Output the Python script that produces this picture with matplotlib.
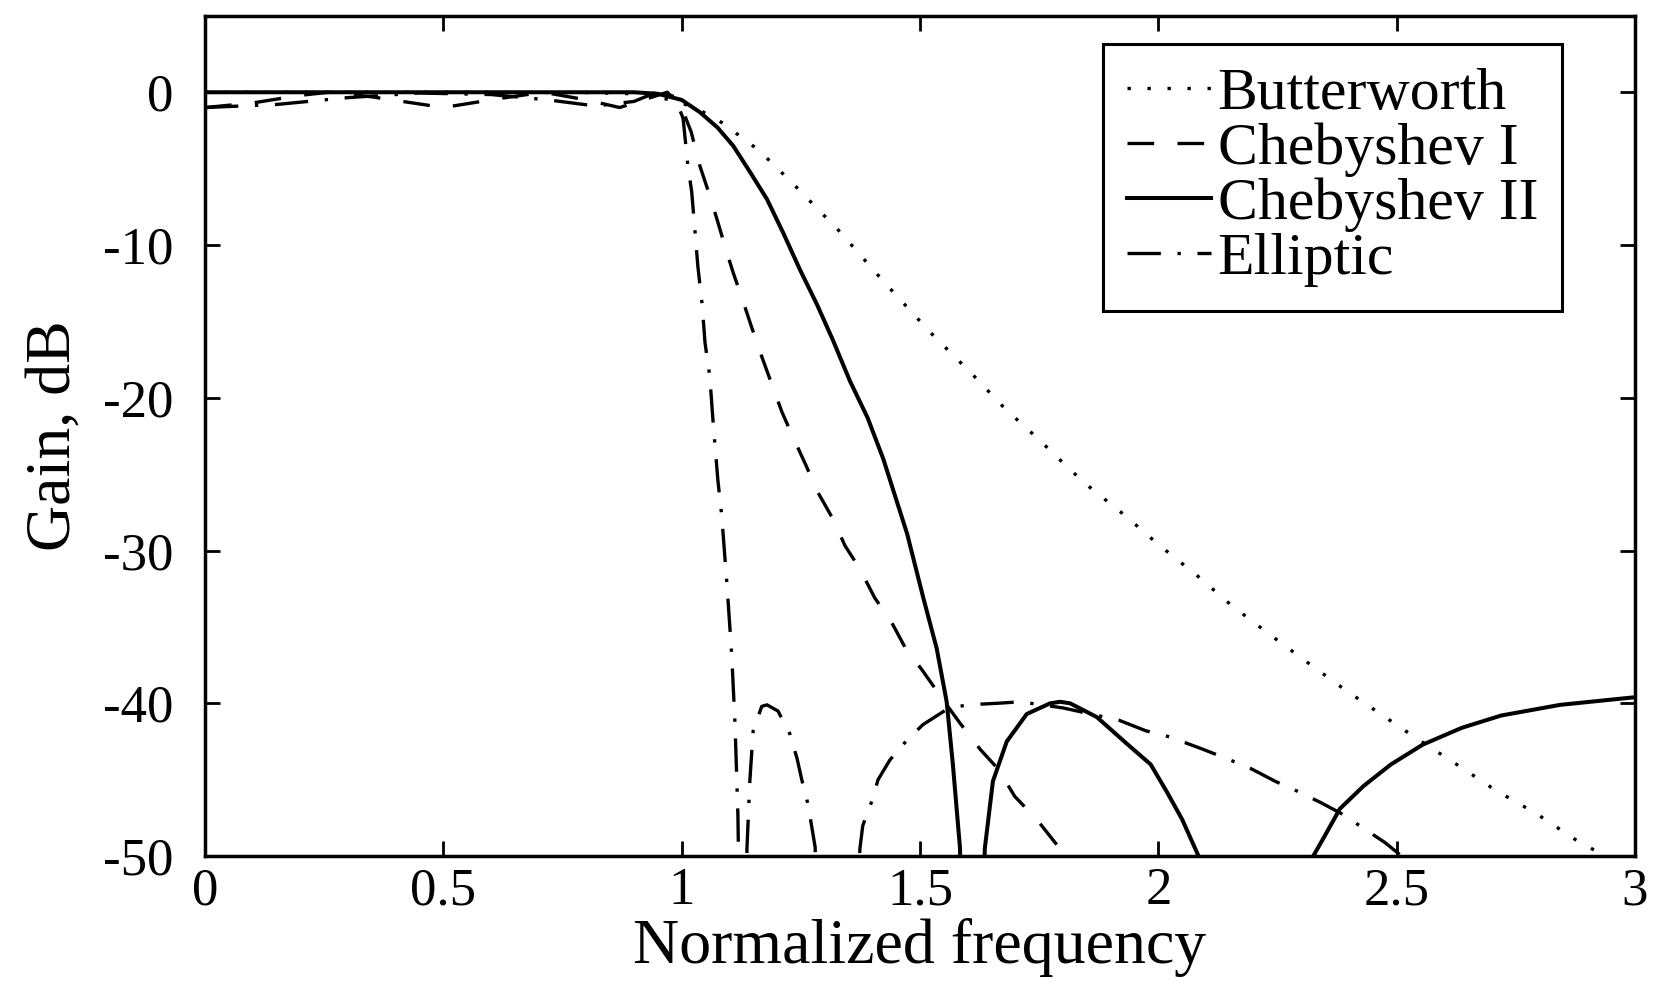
import numpy as np
import matplotlib
matplotlib.use('Agg')
import matplotlib.pyplot as plt

plt.rcParams['font.family'] = ['Liberation Serif', 'DejaVu Serif']
plt.rcParams['axes.unicode_minus'] = False

# values (normalized frequency, gain in dB)
bw_x = [0, 0.5, 0.8, 0.9, 0.95, 1.0, 1.04, 1.085, 1.162, 1.231, 1.328, 1.424,
        1.521, 1.611, 1.678, 1.745, 1.815, 1.85, 1.93, 2.0, 2.08, 2.154, 2.234,
        2.312, 2.391, 2.471, 2.542, 2.626, 2.708, 2.792, 2.874, 2.92, 3.0]
bw_y = [0, 0, -0.02, -0.1, -0.3, -0.7, -1.2, -2.0, -3.8, -5.9, -9.0, -12.4,
        -15.7, -18.5, -20.7, -22.6, -24.7, -25.7, -27.7, -29.6, -31.6, -33.6, -35.5,
        -37.3, -39.1, -40.8, -42.3, -44.0, -45.7, -47.2, -48.9, -49.7, -51.0]

c1_x = [0, 0.1, 0.2, 0.26, 0.35, 0.5, 0.62, 0.71, 0.8, 0.87, 0.93, 0.97, 1.0,
        1.02, 1.038, 1.055, 1.074, 1.091, 1.108, 1.129, 1.147, 1.168, 1.189, 1.21,
        1.234, 1.259, 1.286, 1.315, 1.343, 1.374, 1.405, 1.437, 1.468, 1.504,
        1.556, 1.584, 1.626, 1.664, 1.699, 1.745, 1.783, 1.804, 1.85]
c1_y = [-1.0, -0.7, -0.2, 0, -0.3, -1.0, -0.4, 0, -0.5, -1.0, -0.4, 0, -1.0,
        -2.6, -4.8, -6.4, -8.3, -10.1, -11.8, -13.7, -15.4, -17.3, -19.1, -20.9,
        -22.6, -24.3, -26.2, -27.8, -29.7, -31.2, -33.1, -34.5, -36.3, -37.8,
        -40.1, -41.3, -43.0, -44.3, -46.1, -47.6, -49.1, -49.9, -52]

c2_x = [0, 0.5, 0.9, 0.95, 1.0, 1.038, 1.075, 1.108, 1.143, 1.179, 1.213, 1.248,
        1.284, 1.317, 1.353, 1.39, 1.423, 1.473, 1.507, 1.535, 1.556, 1.569, 1.584,
        1.59, 1.628, 1.636, 1.653, 1.682, 1.724, 1.773, 1.794, 1.815, 1.871, 1.936,
        1.984, 2.018, 2.05, 2.083, 2.088, 2.318, 2.325, 2.347, 2.381, 2.431, 2.488,
        2.555, 2.637, 2.719, 2.843, 3.0]
c2_y = [0, 0, 0, -0.1, -0.5, -1.3, -2.3, -3.5, -5.2, -7.0, -9.2, -11.6,
        -13.9, -16.2, -18.9, -21.3, -24.0, -28.9, -33.1, -36.4, -39.9, -44.0, -49.5,
        -60, -60, -49.5, -45.1, -42.5, -40.7, -40.0, -39.9, -40.0, -40.9, -42.7,
        -44.0, -45.8, -47.6, -49.9, -60, -60, -50.0, -48.8, -46.9, -45.4, -44.0,
        -42.7, -41.6, -40.8, -40.1, -39.6]

el_x = [0, 0.15, 0.3, 0.45, 0.6, 0.72, 0.82, 0.9, 0.955, 0.985, 1.003, 1.013,
        1.021, 1.028, 1.034, 1.043, 1.049, 1.059, 1.066, 1.076, 1.084, 1.095, 1.105,
        1.112, 1.118, 1.124, 1.131, 1.137, 1.143, 1.15, 1.168, 1.179, 1.202, 1.227,
        1.242, 1.252, 1.265, 1.28, 1.29, 1.36, 1.374, 1.38, 1.399, 1.412, 1.437,
        1.473, 1.506, 1.556, 1.598, 1.661, 1.71, 1.8, 1.917, 1.974, 2.024, 2.093,
        2.15, 2.196, 2.245, 2.295, 2.341, 2.389, 2.436, 2.475, 2.55]
el_y = [-1.0, -0.8, -0.35, -0.05, -0.15, -0.5, -0.9, -0.6, 0.1, -0.3, -1.7, -4.8,
        -6.5, -9.1, -11.4, -13.9, -16.4, -18.6, -21.6, -25.4, -27.7, -32.2, -36.8,
        -41.4, -47.3, -60, -60, -49.5, -45.1, -41.8, -40.2, -40.1, -40.5, -42.0,
        -43.6, -45.0, -46.6, -49.4, -60, -60, -49.5, -48.0, -46.4, -45.0, -43.7,
        -42.4, -41.4, -40.4, -40.1, -40.0, -39.9, -40.3, -41.1, -41.8, -42.2, -43.0,
        -43.7, -44.3, -45.1, -45.8, -46.5, -47.3, -48.3, -49.1, -51]

x_ticks = [0, 0.5, 1, 1.5, 2, 2.5, 3]
x_labels = ['0', '0.5', '1', '1.5', '2', '2.5', '3']
y_ticks = [0, -10, -20, -30, -40, -50]
y_labels = ['0', '-10', '-20', '-30', '-40', '-50']

fig = plt.figure(figsize=(16.68, 9.92), dpi=100)
ax = fig.add_axes([0.1229, 0.137, 0.8573, 0.847])

lw = 2.4
ax.plot(bw_x, bw_y, color='black', lw=lw, linestyle=(0, (1, 5)), label='Butterworth')
ax.plot(c1_x, c1_y, color='black', lw=lw, linestyle=(0, (8, 7)), label='Chebyshev I')
ax.plot(c2_x, c2_y, color='black', lw=lw + 0.5, linestyle='-', label='Chebyshev II')
ax.plot(el_x, el_y, color='black', lw=lw, linestyle=(0, (10, 5, 1, 5)), label='Elliptic')

ax.set_xlim(0, 3)
ax.set_ylim(-50, 5)
ax.set_xticks(x_ticks)
ax.set_xticklabels(x_labels)
ax.set_yticks(y_ticks)
ax.set_yticklabels(y_labels)

for s in ax.spines.values():
    s.set_linewidth(2.5)
ax.tick_params(direction='in', length=11, width=2, top=True, right=True,
               labelsize=38)
ax.tick_params(axis='y', pad=23)
ax.tick_params(axis='x', pad=8)

ax.set_xlabel('Normalized frequency', fontsize=46, labelpad=2)
ax.set_ylabel('Gain, dB', fontsize=46, labelpad=14)

leg = ax.legend(loc='upper left', bbox_to_anchor=(0.628, 0.967), borderaxespad=0,
                fontsize=43, frameon=True, fancybox=False, framealpha=1,
                edgecolor='black', handlelength=1.4, handletextpad=0.12,
                labelspacing=0.0, borderpad=0.4)
leg.get_frame().set_linewidth(2.2)

fig.savefig('out.png', dpi=100)
